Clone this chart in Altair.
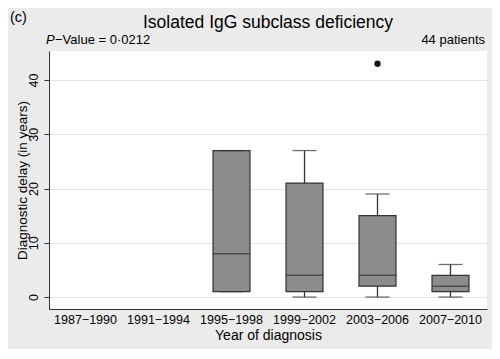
import altair as alt
import pandas as pd

# Data
all_periods = ["1987−1990", "1991−1994", "1995−1998", "1999−2002", "2003−2006", "2007−2010"]
periods = ["1995−1998", "1999−2002", "2003−2006", "2007−2010"]
lower_whisker = [1, 0, 0, 0]
q1 = [1, 1, 2, 1]
median = [8, 4, 4, 2]
q3 = [27, 21, 15, 4]
upper_whisker = [27, 27, 19, 6]
outlier_periods = ["2003−2006"]
outlier_values = [43]
yticks = [0, 10, 20, 30, 40]

df = pd.DataFrame({"period": periods, "lo": lower_whisker, "q1": q1,
                   "med": median, "q3": q3, "hi": upper_whisker})
out = pd.DataFrame({"period": outlier_periods, "v": outlier_values})

FONT = "Liberation Sans"
DARK = "#333333"

x = alt.X("period:N", scale=alt.Scale(domain=all_periods, paddingInner=0, paddingOuter=0),
          sort=all_periods,
          axis=alt.Axis(title="Year of diagnosis", labelAngle=0, ticks=False, grid=False,
                        labelFontSize=12.5, titleFontSize=14, labelPadding=4,
                        titlePadding=3, titleFontWeight="normal", domainColor=DARK,
                        labelColor="#000000", titleColor="#000000"))
yscale = alt.Scale(domain=[-2.2, 45.35], nice=False, zero=False)
yaxis = alt.Axis(title="Diagnostic delay (in years)", values=yticks, labelAngle=-90,
                 labelAlign="center", labelBaseline="bottom", labelPadding=4,
                 tickSize=5, tickColor=DARK, domainColor=DARK, grid=True,
                 gridColor="#e4e4e4", labelFontSize=12.5, titleFontSize=13.5,
                 titleFontWeight="normal", titleX=-27, titleY=129,
                 titleAlign="center", titleBaseline="middle", titleAngle=-90,
                 labelColor="#000000", titleColor="#000000")

base = alt.Chart(df)
whisk = base.mark_rule(color=DARK, strokeWidth=1.3).encode(
    x=x, y=alt.Y("lo:Q", scale=yscale, axis=yaxis), y2="hi:Q")
box = base.mark_bar(size=37, color="#8c8c8c", stroke=DARK, strokeWidth=1.2).encode(
    x=x, y=alt.Y("q1:Q", scale=yscale, axis=yaxis), y2="q3:Q")
med = base.mark_tick(size=37, thickness=1.5, color=DARK).encode(
    x=x, y=alt.Y("med:Q", scale=yscale, axis=yaxis))
cap_lo = base.mark_tick(size=24, thickness=1.3, color=DARK).encode(
    x=x, y=alt.Y("lo:Q", scale=yscale, axis=yaxis))
cap_hi = base.mark_tick(size=24, thickness=1.3, color=DARK).encode(
    x=x, y=alt.Y("hi:Q", scale=yscale, axis=yaxis))
pts = alt.Chart(out).mark_point(filled=True, color="#111111", size=40, opacity=1).encode(
    x=x, y=alt.Y("v:Q", scale=yscale, axis=yaxis))

ann = pd.DataFrame({"a": [0]})
def txt(s, xp, yp, size, align="left", style="normal"):
    return alt.Chart(ann).mark_text(text=s, font=FONT, fontSize=size, align=align,
                                    baseline="alphabetic", fontStyle=style,
                                    color="#000000").encode(
        x=alt.value(xp), y=alt.value(yp))

labels = [
    txt("(c)", -39, -29, 14.5),
    txt("Isolated IgG subclass deficiency", 219, -23, 17.5, align="center"),
    txt("P", -3, -7, 13, style="italic"),
    txt("−Value = 0·0212", 6, -7, 13),
    txt("44 patients", 436, -7, 13, align="right"),
]

chart = alt.layer(whisk, box, med, cap_lo, cap_hi, pts, *labels).properties(
    width=438, height=258,
    autosize=alt.AutoSizeParams(type="none"),
    padding={"left": 41, "top": 43, "right": 5, "bottom": 40},
    background="#ebebeb",
).configure_view(fill="#ffffff", stroke=None).configure_axis(
    labelFont=FONT, titleFont=FONT)

chart.save("out.html", embed_options={"renderer": "svg", "actions": False})
